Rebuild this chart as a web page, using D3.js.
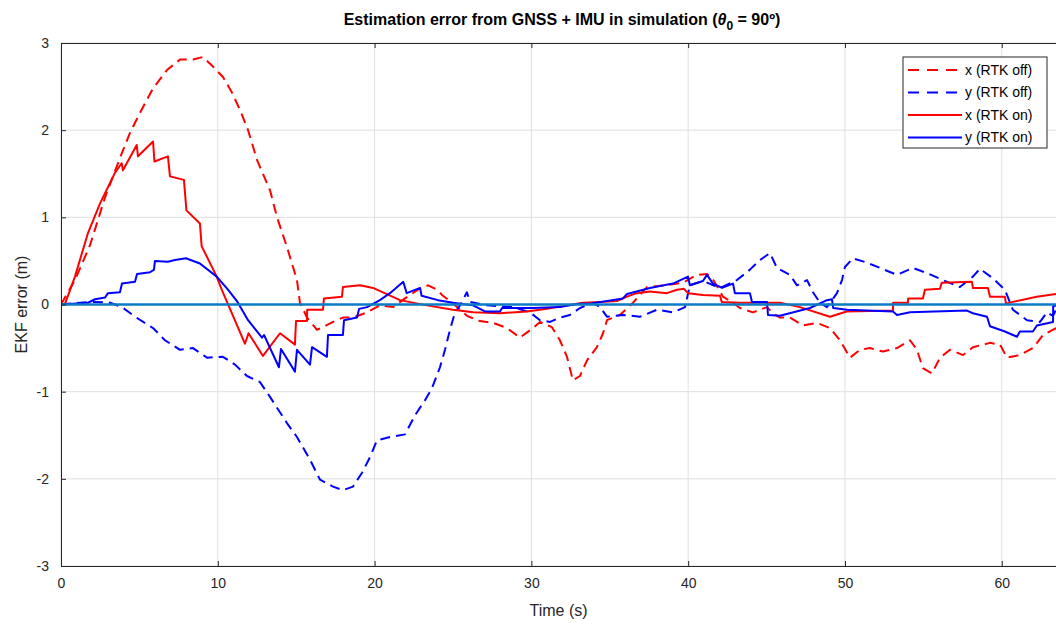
<!DOCTYPE html>
<html>
<head>
<meta charset="utf-8">
<script src="https://cdn.jsdelivr.net/npm/d3@7"></script>
<style>
  body { margin: 0; background: #fff; }
  svg { display: block; font-family: "Liberation Sans", Arial, sans-serif; }
</style>
</head>
<body>
<div id="chart"></div>
<script>
// Ticks
const xTicks = [0, 10, 20, 30, 40, 50, 60];
const yTicks = [-3, -2, -1, 0, 1, 2, 3];

// x error, RTK off (dashed red)
const xOffTime = [0, 0.89, 1.85, 2.81, 3.76, 4.40, 5.04, 5.87, 6.76, 7.59, 8.42, 9.06, 9.69, 10.33, 10.91, 11.42,
  11.93, 12.50, 13.33, 13.78, 14.41, 15.05, 15.24, 15.69, 16.33, 16.71, 17.35, 17.98, 18.62, 19.52, 20.34, 21.17,
  21.94, 22.77, 23.41, 23.98, 24.30, 25.13, 25.89, 26.72, 27.55, 28.44, 29.27, 30.10, 30.55, 31.31, 31.82, 32.27,
  32.65, 33.10, 33.55, 34.18, 34.57, 34.82, 35.65, 36.48, 37.37, 38.52, 39.67, 40.56, 41.20, 41.58, 42.22, 42.86,
  43.30, 44.13, 45.03, 45.41, 45.85, 46.49, 47.32, 48.21, 49.04, 49.68, 50.32, 50.96, 51.59, 52.42, 53.32, 54.15,
  54.59, 54.97, 55.55, 56.06, 56.70, 57.53, 58.16, 59.25, 59.89, 60.33, 61.16, 61.99, 62.63, 63.46];
const xOffValues = [0, 0.28, 0.68, 1.23, 1.68, 1.97, 2.20, 2.48, 2.69, 2.81, 2.81, 2.84, 2.73, 2.61, 2.43, 2.23,
  2.00, 1.66, 1.31, 1.00, 0.66, 0.28, 0.02, -0.15, -0.29, -0.26, -0.20, -0.15, -0.15, -0.09, -0.01, -0.03,
  0.07, 0.17, 0.22, 0.17, 0.11, -0.01, -0.13, -0.19, -0.21, -0.27, -0.38, -0.27, -0.20, -0.26, -0.41, -0.60,
  -0.87, -0.82, -0.64, -0.49, -0.33, -0.18, -0.12, 0.02, 0.20, 0.22, 0.25, 0.34, 0.35, 0.29, 0.09, 0.02,
  -0.04, -0.09, -0.03, -0.10, -0.15, -0.15, -0.24, -0.21, -0.27, -0.41, -0.61, -0.52, -0.50, -0.54, -0.50, -0.41,
  -0.52, -0.73, -0.79, -0.61, -0.52, -0.58, -0.49, -0.44, -0.46, -0.61, -0.58, -0.50, -0.35, -0.27];

// y error, RTK off (dashed blue)
const yOffTime = [0, 1.21, 2.17, 3.13, 3.89, 4.72, 5.87, 6.63, 7.59, 8.42, 9.31, 10.33, 11.10, 11.86, 12.69, 13.33,
  14.41, 15.05, 15.88, 16.52, 17.35, 17.98, 18.62, 19.20, 19.71, 20.15, 20.98, 21.94, 22.58, 23.21, 23.66, 24.17,
  24.49, 24.81, 25.13, 25.45, 25.89, 26.08, 27.17, 28.83, 29.91, 30.55, 31.19, 31.82, 32.46, 33.10, 33.93, 34.38,
  34.82, 35.84, 36.93, 38.01, 39.03, 39.80, 40.11, 40.94, 42.03, 43.11, 43.94, 44.58, 45.22, 45.66, 46.49, 46.94,
  47.58, 47.96, 48.41, 48.85, 49.49, 49.81, 50.00, 50.51, 51.40, 52.23, 53.32, 54.34, 55.23, 56.25, 57.33, 58.16,
  58.61, 59.44, 60.20, 60.71, 61.61, 62.44, 62.88, 63.27, 63.46];
const yOffValues = [0, 0.02, 0.03, 0.02, -0.03, -0.14, -0.27, -0.41, -0.52, -0.50, -0.61, -0.60, -0.69, -0.82, -0.89, -1.06,
  -1.36, -1.52, -1.78, -2.01, -2.09, -2.13, -2.09, -1.93, -1.75, -1.56, -1.52, -1.49, -1.27, -1.10, -0.96, -0.72,
  -0.52, -0.29, -0.09, -0.01, 0.14, 0.03, -0.01, -0.03, -0.09, -0.18, -0.20, -0.15, -0.12, -0.04, 0.02, -0.03,
  -0.14, -0.12, -0.14, -0.06, -0.09, -0.03, 0.22, 0.27, 0.19, 0.28, 0.40, 0.51, 0.59, 0.42, 0.34, 0.22,
  0.28, 0.14, 0.02, -0.03, 0.13, 0.28, 0.43, 0.53, 0.48, 0.42, 0.34, 0.42, 0.36, 0.28, 0.20, 0.32,
  0.41, 0.30, 0.17, -0.06, -0.18, -0.20, -0.09, -0.13, -0.06];

// x error, RTK on (solid red)
const xOnTime = [0, 0.26, 0.89, 1.72, 2.49, 3.44, 3.87, 3.95, 4.83, 4.91, 5.87, 5.96, 6.82, 6.95, 7.84, 8.00,
  8.86, 8.97, 9.93, 10.25, 11.73, 11.96, 12.88, 13.97, 14.92, 14.99, 15.69, 15.70, 16.71, 16.77, 17.92, 17.98,
  19.07, 19.90, 21.62, 23.34, 25.00, 26.28, 28.00, 29.72, 31.00, 32.27, 33.29, 34.38, 35.46, 36.10, 36.73, 37.56,
  38.65, 39.29, 39.73, 39.99, 40.94, 42.03, 42.14, 43.30, 44.39, 45.86, 47.13, 49.04, 50.11, 53.06, 53.07, 54.02,
  54.03, 54.97, 55.10, 56.06, 56.17, 58.10, 58.16, 59.12, 59.25, 60.20, 60.27, 60.71, 62.23, 63.46];
const xOnValues = [0, 0.01, 0.32, 0.82, 1.16, 1.51, 1.62, 1.54, 1.83, 1.70, 1.87, 1.64, 1.70, 1.47, 1.43, 1.08,
  0.93, 0.67, 0.32, 0.17, -0.45, -0.33, -0.59, -0.33, -0.46, -0.19, -0.19, -0.06, -0.06, 0.07, 0.09, 0.20,
  0.22, 0.19, 0.05, -0.01, -0.06, -0.09, -0.10, -0.08, -0.05, -0.01, 0.02, 0.03, 0.04, 0.09, 0.13, 0.15,
  0.13, 0.17, 0.18, 0.13, 0.11, 0.10, 0.03, 0.02, 0.02, 0.02, -0.03, -0.14, -0.08, -0.07, 0.02, 0.02,
  0.07, 0.07, 0.17, 0.18, 0.25, 0.26, 0.19, 0.19, 0.09, 0.09, 0.01, 0.03, 0.09, 0.12];

// y error, RTK on (solid blue)
const yOnTime = [0, 1.72, 2.17, 2.81, 3.00, 3.76, 3.89, 4.72, 4.85, 5.68, 5.93, 5.99, 6.82, 7.27, 7.97, 8.86,
  9.93, 10.65, 11.22, 11.93, 12.82, 12.95, 13.90, 14.03, 14.92, 15.05, 15.88, 16.01, 16.96, 17.03, 17.98, 18.05,
  18.88, 19.01, 19.52, 20.34, 20.98, 21.83, 22.05, 22.90, 23.00, 24.04, 25.00, 26.28, 27.04, 28.00, 28.13, 30.10,
  31.82, 33.10, 33.74, 35.84, 36.10, 37.56, 39.03, 39.99, 40.11, 40.94, 41.20, 41.58, 42.16, 42.86, 42.98, 43.94,
  44.07, 45.03, 45.09, 45.85, 47.77, 48.85, 49.17, 49.25, 50.13, 53.06, 53.32, 54.15, 57.78, 58.16, 59.06, 59.25,
  60.20, 60.97, 61.16, 61.99, 62.24, 63.27, 63.28, 63.46];
const yOnValues = [0, 0.02, 0.06, 0.08, 0.13, 0.14, 0.24, 0.26, 0.35, 0.37, 0.40, 0.50, 0.49, 0.51, 0.53, 0.47,
  0.32, 0.17, 0.04, -0.18, -0.38, -0.35, -0.72, -0.51, -0.77, -0.52, -0.69, -0.49, -0.60, -0.35, -0.35, -0.18,
  -0.15, -0.05, -0.03, 0.05, 0.13, 0.26, 0.13, 0.19, 0.10, 0.05, 0.02, -0.01, -0.08, -0.08, -0.04, -0.04,
  -0.03, 0.01, 0.01, 0.07, 0.12, 0.19, 0.24, 0.32, 0.22, 0.27, 0.34, 0.24, 0.19, 0.24, 0.13, 0.13,
  0.03, 0.03, -0.12, -0.13, -0.04, 0.05, 0.06, -0.04, -0.06, -0.08, -0.12, -0.09, -0.07, -0.10, -0.14, -0.25,
  -0.31, -0.37, -0.31, -0.31, -0.24, -0.20, -0.02, -0.01];

const seriesLabels = ["x (RTK off)", "y (RTK off)", "x (RTK on)", "y (RTK on)"];

// Dimensions
const width = 1056;
const height = 626;
const plot = { left: 61, right: 1056, top: 43, bottom: 566 };

const x = d3.scaleLinear().domain([0, 63.46]).range([plot.left, plot.right]);
const y = d3.scaleLinear().domain([-3, 3]).range([plot.bottom, plot.top]);

const svg = d3.select("#chart").append("svg")
    .attr("width", width)
    .attr("height", height);

// Grid
const grid = svg.append("g").attr("stroke", "#dfdfdf").attr("stroke-width", 1);
grid.selectAll(".gx")
    .data(xTicks)
    .join("line")
    .attr("x1", d => x(d)).attr("x2", d => x(d))
    .attr("y1", plot.top).attr("y2", plot.bottom);
grid.selectAll(".gy")
    .data(yTicks)
    .join("line")
    .attr("x1", plot.left).attr("x2", plot.right)
    .attr("y1", d => y(d)).attr("y2", d => y(d));

// Clip for the lines
svg.append("clipPath").attr("id", "clip")
    .append("rect")
    .attr("x", plot.left).attr("y", plot.top)
    .attr("width", plot.right - plot.left).attr("height", plot.bottom - plot.top);

const line = d3.line()
    .x(d => x(d[0]))
    .y(d => y(d[1]));

const series = [
    { label: seriesLabels[0], data: d3.zip(xOffTime, xOffValues), color: "#ff0000", dash: "10,6" },
    { label: seriesLabels[1], data: d3.zip(yOffTime, yOffValues), color: "#0000ff", dash: "10,6" },
    { label: seriesLabels[2], data: d3.zip(xOnTime, xOnValues), color: "#ff0000", dash: null },
    { label: seriesLabels[3], data: d3.zip(yOnTime, yOnValues), color: "#0000ff", dash: null }
];

svg.append("g")
    .attr("clip-path", "url(#clip)")
    .selectAll("path")
    .data(series)
    .join("path")
    .attr("fill", "none")
    .attr("stroke", d => d.color)
    .attr("stroke-width", 2)
    .attr("stroke-linejoin", "round")
    .attr("stroke-dasharray", d => d.dash)
    .attr("d", d => line(d.data));

// Zero reference line
svg.append("line")
    .attr("x1", plot.left).attr("x2", plot.right)
    .attr("y1", y(0)).attr("y2", y(0))
    .attr("stroke", "#0a7cc4")
    .attr("stroke-width", 2.5);

// Axes
const axisColor = "#262626";
const plainNumber = d => String(d); // "-3" with a plain hyphen, as in MATLAB

const xAxis = svg.append("g")
    .attr("transform", `translate(0,${plot.bottom})`)
    .call(d3.axisBottom(x).tickValues(xTicks).tickFormat(plainNumber)
        .tickSizeInner(-5).tickSizeOuter(0).tickPadding(12));
const xTop = svg.append("g")
    .attr("transform", `translate(0,${plot.top})`)
    .call(d3.axisTop(x).tickValues(xTicks).tickSizeInner(-5).tickSizeOuter(0).tickFormat(""));
const yAxis = svg.append("g")
    .attr("transform", `translate(${plot.left},0)`)
    .call(d3.axisLeft(y).tickValues(yTicks).tickFormat(plainNumber)
        .tickSizeInner(-5).tickSizeOuter(0).tickPadding(12));

[xAxis, xTop, yAxis].forEach(g => {
    g.select(".domain").attr("stroke", axisColor);
    g.selectAll(".tick line").attr("stroke", axisColor);
    g.selectAll(".tick text")
        .attr("fill", axisColor)
        .attr("font-size", "14px")
        .attr("font-family", "Liberation Sans, Arial, sans-serif");
});

// Axis labels
svg.append("text")
    .attr("x", (plot.left + plot.right) / 2)
    .attr("y", 616)
    .attr("text-anchor", "middle")
    .attr("font-size", "16px")
    .attr("fill", axisColor)
    .text("Time (s)");

svg.append("text")
    .attr("transform", `translate(27,${(plot.top + plot.bottom) / 2}) rotate(-90)`)
    .attr("text-anchor", "middle")
    .attr("font-size", "16px")
    .attr("fill", axisColor)
    .text("EKF error (m)");

// Title
const title = svg.append("text")
    .attr("x", 562)
    .attr("y", 25)
    .attr("text-anchor", "middle")
    .attr("font-size", "16px")
    .attr("font-weight", "bold")
    .attr("fill", "#000");
title.append("tspan").text("Estimation error from GNSS + IMU in simulation (");
title.append("tspan").attr("font-style", "italic").text("θ");
title.append("tspan").attr("dy", 5).attr("font-size", "12px").text("0");
title.append("tspan").attr("dy", -5).text(" = 90º)");

// Legend
const legend = svg.append("g").attr("transform", "translate(903,57)");
legend.append("rect")
    .attr("width", 144).attr("height", 91)
    .attr("fill", "#fff")
    .attr("stroke", axisColor)
    .attr("stroke-width", 1);

const rows = legend.selectAll(".row")
    .data(series)
    .join("g")
    .attr("transform", (d, i) => `translate(0,${13 + i * 22.5})`);

rows.append("line")
    .attr("x1", 5).attr("x2", 59)
    .attr("stroke", d => d.color)
    .attr("stroke-width", 2)
    .attr("stroke-dasharray", d => d.dash ? "11,8" : null);

rows.append("text")
    .attr("x", 62)
    .attr("dy", "0.35em")
    .attr("font-size", "14px")
    .attr("fill", "#000")
    .text(d => d.label);
</script>
</body>
</html>
